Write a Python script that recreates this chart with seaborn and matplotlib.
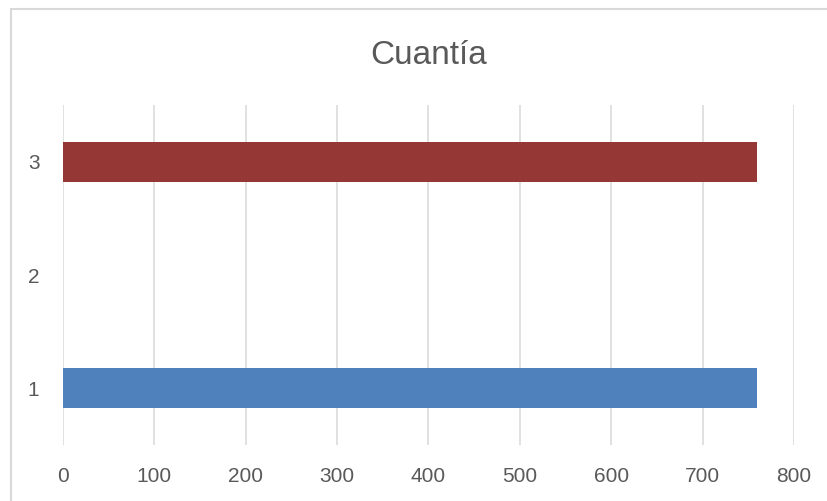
import matplotlib
matplotlib.use("Agg")
import matplotlib.pyplot as plt
import seaborn as sns
import pandas as pd
from matplotlib.patches import Rectangle

categories = ["1", "2", "3"]
values = [760, 0, 760]
colors = ["#4F81BD", "#FFFFFF", "#953735"]
x_ticks = [0, 100, 200, 300, 400, 500, 600, 700, 800]
title = "Cuantía"

sns.set_theme(style="white")
plt.rcParams["font.family"] = ["Liberation Sans", "DejaVu Sans"]

df = pd.DataFrame({"cat": categories, "val": values})
order = ["3", "2", "1"]
palette = dict(zip(categories, colors))

W, H = 828, 501
fig = plt.figure(figsize=(W / 100, H / 100), dpi=100)
ax = fig.add_axes([63 / W, 1 - 445 / H, (794 - 63) / W, (445 - 105) / H])

sns.barplot(data=df, x="val", y="cat", hue="cat", order=order, palette=palette,
            orient="h", width=0.355, linewidth=0, saturation=1, legend=False,
            ax=ax, zorder=3)

ax.set_xlim(0, 800)
ax.set_ylim(2.5, -0.5)
ax.set_xticks(x_ticks)
ax.set_xticklabels([str(t) for t in x_ticks])
ax.grid(axis="x", color="#D9D9D9", linewidth=1.1, zorder=0)
ax.grid(axis="y", visible=False)
for s in ax.spines.values():
    s.set_visible(False)
ax.set_xlabel("")
ax.set_ylabel("")
ax.tick_params(axis="both", length=0, labelsize=15, labelcolor="#595959")
ax.tick_params(axis="x", pad=16)
ax.tick_params(axis="y", pad=17)
ax.set_axisbelow(True)

fig.text(428.5 / W, 1 - 64 / H, title, ha="center", va="baseline",
         fontsize=24, color="#595959")

fig.patches.append(Rectangle((10.5 / W, -0.1), 1.2, 1 - 9 / H + 0.1,
                             transform=fig.transFigure, fill=False,
                             edgecolor="#D9D9D9", linewidth=1.5, zorder=10))

fig.savefig("out.png", dpi=100, facecolor="white")
